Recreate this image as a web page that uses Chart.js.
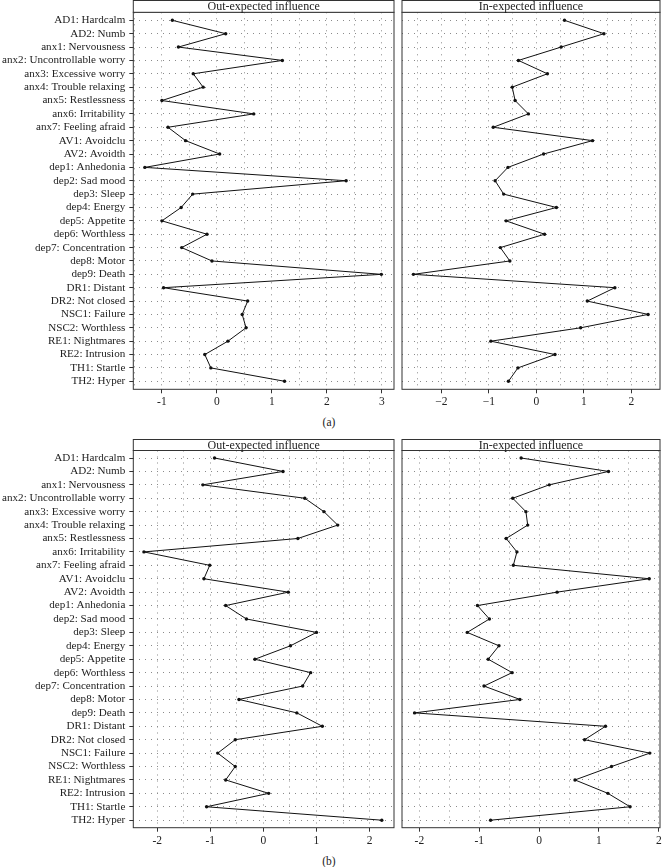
<!DOCTYPE html>
<html><head><meta charset="utf-8">
<script src="https://cdn.jsdelivr.net/npm/chart.js@4.4.0/dist/chart.umd.min.js"></script>
<style>
html,body{margin:0;padding:0;background:#fff;width:664px;height:867px;overflow:hidden;}
.box{position:absolute;}
.cap{position:absolute;font-family:"Liberation Serif",serif;font-size:11.5px;color:#222;width:40px;text-align:center;}
</style></head><body>
<div class="box" style="left:0;top:0;width:398px;height:412px"><canvas id="aOut"></canvas></div>
<div class="box" style="left:398px;top:0;width:266px;height:412px"><canvas id="aIn"></canvas></div>
<div class="box" style="left:0;top:439px;width:398px;height:412px"><canvas id="bOut"></canvas></div>
<div class="box" style="left:398px;top:439px;width:266px;height:412px"><canvas id="bIn"></canvas></div>
<div class="cap" style="left:309px;top:416px">(a)</div>
<div class="cap" style="left:309px;top:855px">(b)</div>
<script>
const categories = [
  "AD1: Hardcalm","AD2: Numb","anx1: Nervousness","anx2: Uncontrollable worry",
  "anx3: Excessive worry","anx4: Trouble relaxing","anx5: Restlessness","anx6: Irritability",
  "anx7: Feeling afraid","AV1: Avoidclu","AV2: Avoidth","dep1: Anhedonia","dep2: Sad mood",
  "dep3: Sleep","dep4: Energy","dep5: Appetite","dep6: Worthless","dep7: Concentration",
  "dep8: Motor","dep9: Death","DR1: Distant","DR2: Not closed","NSC1: Failure",
  "NSC2: Worthless","RE1: Nightmares","RE2: Intrusion","TH1: Startle","TH2: Hyper"
];
const stripTitles = ["Out-expected influence","In-expected influence"];

// Panel (a)
const outA = [-0.81,0.16,-0.70,1.19,-0.43,-0.25,-1.00,0.67,-0.89,-0.57,0.05,-1.31,2.35,
  -0.44,-0.65,-1.00,-0.18,-0.64,-0.09,2.99,-0.97,0.56,0.46,0.53,0.20,-0.22,-0.11,1.23];
const inA = [0.59,1.42,0.52,-0.38,0.23,-0.51,-0.45,-0.17,-0.91,1.18,0.15,-0.60,-0.87,
  -0.69,0.42,-0.64,0.17,-0.76,-0.56,-2.59,1.65,1.07,2.35,0.93,-0.96,0.39,-0.39,-0.59];
// Panel (b)
const outB = [-0.92,0.37,-1.14,0.78,1.14,1.40,0.65,-2.25,-1.01,-1.12,0.47,-0.71,-0.32,
  1.00,0.51,-0.16,0.89,0.74,-0.46,0.63,1.11,-0.53,-0.86,-0.53,-0.71,0.10,-1.07,2.23];
const inB = [-0.30,1.16,0.17,-0.44,-0.22,-0.19,-0.55,-0.37,-0.43,1.84,0.30,-1.03,-0.83,
  -1.20,-0.67,-0.85,-0.45,-0.92,-0.32,-2.08,1.11,0.76,1.85,1.21,0.60,1.15,1.52,-0.81];

const xRangeAOut = [-1.52, 3.22];
const xRangeAIn  = [-2.83, 2.60];
const xRangeBOut = [-2.45, 2.46];
const xRangeBIn  = [-2.29, 2.02];

const FONT = '"Liberation Serif", "DejaVu Serif", serif';

const framePlugin = {
  id: 'framePlugin',
  afterDraw(chart, args, opts) {
    const {ctx, chartArea: a} = chart;
    ctx.save();
    ctx.strokeStyle = '#333';
    ctx.lineWidth = 1;
    ctx.strokeRect(a.left, a.top, a.right - a.left, a.bottom - a.top);
    const top = 0.5;
    ctx.fillStyle = '#fff';
    ctx.fillRect(a.left, top, a.right - a.left, a.top - top);
    ctx.strokeRect(a.left, top, a.right - a.left, a.top - top);
    ctx.fillStyle = '#222';
    ctx.font = '12px ' + FONT;
    ctx.textAlign = 'center';
    ctx.textBaseline = 'middle';
    ctx.fillText(opts.title, (a.left + a.right) / 2, (top + a.top) / 2 + 0.5);
    ctx.restore();
  }
};

function makeFacet(id, values, range, o) {
  const isInt = v => Math.abs(v - Math.round(v)) < 1e-6;
  const fmt = v => (v < 0 ? o.minus + Math.abs(v) : String(v));
  new Chart(document.getElementById(id), {
    type: 'scatter',
    data: {
      datasets: [{
        data: values.map((v, i) => ({x: v, y: i + 1})),
        showLine: true,
        borderColor: '#111',
        borderWidth: 1,
        pointRadius: 1.7,
        pointBackgroundColor: '#111',
        pointBorderWidth: 0,
        tension: 0
      }]
    },
    options: {
      responsive: true,
      maintainAspectRatio: false,
      animation: false,
      events: [],
      layout: {padding: {top: o.top, left: o.padLeft, right: o.padRight, bottom: 0}},
      plugins: {legend: {display: false}, tooltip: {enabled: false}, framePlugin: {title: o.title}},
      scales: {
        x: {
          type: 'linear',
          min: range[0], max: range[1],
          afterBuildTicks: s => {
            const t = [];
            for (let v = Math.ceil(range[0] * 2) / 2; v <= range[1] + 1e-9; v += 0.5) t.push({value: Math.round(v * 2) / 2});
            s.ticks = t;
          },
          afterFit: s => { s.height = o.h - o.bottom; },
          grid: {
            color: '#8a8a8a', lineWidth: 1,
            tickLength: 4, tickWidth: 1, tickBorderDash: [],
            tickColor: c => (c.tick && isInt(c.tick.value)) ? '#333' : 'rgba(0,0,0,0)'
          },
          border: {display: false, dash: [1, 5]},
          ticks: {
            autoSkip: false, maxRotation: 0, padding: 2,
            color: '#222', font: {family: FONT, size: 11.5},
            callback: v => isInt(v) ? fmt(Math.round(v)) : ''
          }
        },
        y: {
          type: 'linear',
          reverse: true,
          min: 1 - o.rowPad, max: categories.length + o.rowPad,
          afterBuildTicks: s => { s.ticks = categories.map((c, i) => ({value: i + 1})); },
          afterFit: s => { s.width = o.yWidth; },
          grid: {
            color: '#8a8a8a', lineWidth: 1,
            drawTicks: o.labels, tickLength: 4, tickWidth: 1, tickBorderDash: [], tickColor: '#333'
          },
          border: {display: false, dash: [1, 5]},
          ticks: {
            display: o.labels, autoSkip: false, padding: 4,
            color: '#222', font: {family: FONT, size: 11.1},
            callback: v => categories[Math.round(v) - 1]
          }
        }
      }
    },
    plugins: [framePlugin]
  });
}

makeFacet('aOut', outA, xRangeAOut, {title: stripTitles[0], minus: '-', labels: true, yWidth: 133.3, padLeft: 0, padRight: 1.3, top: 12.3, h: 412, bottom: 389.3, rowPad: 0.6});
makeFacet('aIn', inA, xRangeAIn, {title: stripTitles[1], minus: '\u2212', labels: false, yWidth: 0, padLeft: 1.3, padRight: 2, top: 12.3, h: 412, bottom: 389.3, rowPad: 0.6});
makeFacet('bOut', outB, xRangeBOut, {title: stripTitles[0], minus: '-', labels: true, yWidth: 133.3, padLeft: 0, padRight: 1.3, top: 11.5, h: 412, bottom: 388.7, rowPad: 0.56});
makeFacet('bIn', inB, xRangeBIn, {title: stripTitles[1], minus: '-', labels: false, yWidth: 0, padLeft: 1.3, padRight: 2, top: 11.5, h: 412, bottom: 388.7, rowPad: 0.56});
</script>
</body></html>
